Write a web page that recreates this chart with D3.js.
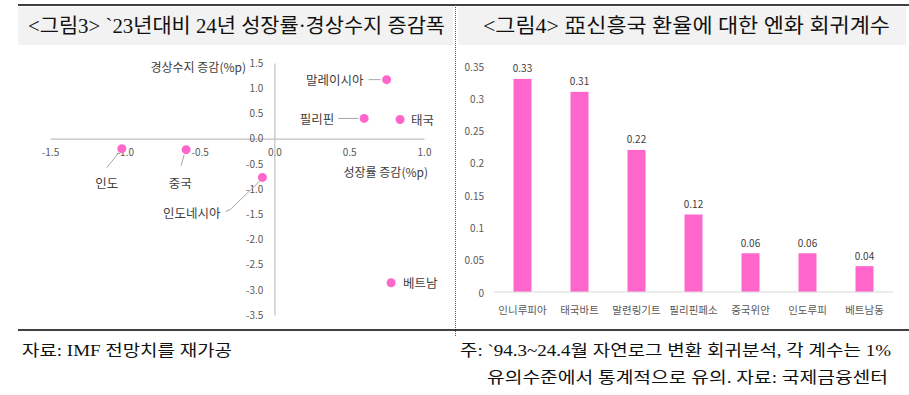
<!DOCTYPE html>
<html>
<head>
<meta charset="utf-8">
<script src="https://cdn.jsdelivr.net/npm/d3@7"></script>
<style>
  body { margin: 0; background: #fff; }
  svg { display: block; }
  .sans { font-family: "Noto Sans CJK KR", "Noto Sans", sans-serif; }
  .serif { font-family: "Liberation Serif", "Noto Sans CJK KR", serif; }
</style>
</head>
<body>
<svg id="chart" width="909" height="395"></svg>
<script>
// ---- data: left scatter (24 vs 23 change, %p) ----
var scatterNames = ['말레이시아', '필리핀', '태국', '인도', '중국', '인도네시아', '베트남'];
var growthChange = [0.75, 0.60, 0.84, -1.02, -0.59, -0.08, 0.78];
var currentAccountChange = [1.17, 0.40, 0.38, -0.20, -0.22, -0.77, -2.86];
var scatterXTicks = [-1.5, -1.0, -0.5, 0.0, 0.5, 1.0];
var scatterYTicks = [1.5, 1.0, 0.5, 0.0, -0.5, -1.0, -1.5, -2.0, -2.5, -3.0, -3.5];

// ---- data: right bar chart (yen regression coefficient) ----
var currencies = ['인니루피아', '태국바트', '말련링기트', '필리핀페소', '중국위안', '인도루피', '베트남동'];
var coefficients = [0.33, 0.31, 0.22, 0.12, 0.06, 0.06, 0.04];
var barYTicks = [0, 0.05, 0.1, 0.15, 0.2, 0.25, 0.3, 0.35];

var PINK = '#ff66cc';
var svg = d3.select('#chart');

// frame: top rule, title boxes, divider, bottom rule
svg.append('line').attr('x1', 18).attr('x2', 909).attr('y1', 5).attr('y2', 5)
    .attr('stroke', '#000').attr('stroke-width', 1.5);
svg.append('rect').attr('x', 18).attr('y', 7).attr('width', 435).attr('height', 38).attr('fill', '#f2f2f2');
svg.append('rect').attr('x', 458).attr('y', 7).attr('width', 448).attr('height', 38).attr('fill', '#f2f2f2');
svg.append('line').attr('x1', 455.5).attr('x2', 455.5).attr('y1', 5).attr('y2', 336)
    .attr('stroke', '#555').attr('stroke-dasharray', '1,1');
svg.append('line').attr('x1', 18).attr('x2', 909).attr('y1', 330).attr('y2', 330)
    .attr('stroke', '#000').attr('stroke-width', 1.5);

function fitText(sel, width) {
    sel.attr('textLength', width).attr('lengthAdjust', 'spacingAndGlyphs');
}

// titles
svg.append('text').attr('class', 'serif').attr('x', 28).attr('y', 26)
    .attr('dominant-baseline', 'central').style('font-size', '20px').attr('fill', '#111')
    .text('<그림3> `23년대비 24년  성장률·경상수지  증감폭').call(fitText, 417);
svg.append('text').attr('class', 'serif').attr('x', 483).attr('y', 26)
    .attr('dominant-baseline', 'central').style('font-size', '20px').attr('fill', '#111')
    .text('<그림4> 亞신흥국  환율에  대한  엔화  회귀계수').call(fitText, 407);

// footers
svg.append('text').attr('class', 'serif').attr('x', 22).attr('y', 350)
    .attr('dominant-baseline', 'central').style('font-size', '16px').attr('fill', '#111')
    .text('자료: IMF  전망치를  재가공').call(fitText, 210);
svg.append('text').attr('class', 'serif').attr('x', 460).attr('y', 350)
    .attr('dominant-baseline', 'central').style('font-size', '16px').attr('fill', '#111')
    .text('주: `94.3~24.4월  자연로그  변환  회귀분석,  각  계수는  1%').call(fitText, 431);
svg.append('text').attr('class', 'serif').attr('x', 487).attr('y', 377)
    .attr('dominant-baseline', 'central').style('font-size', '16px').attr('fill', '#111')
    .text('유의수준에서  통계적으로  유의.   자료:  국제금융센터').call(fitText, 401);

// ================= left: scatter =================
var x = d3.scaleLinear().domain([-1.5, 1.0]).range([50, 424]);
var y = d3.scaleLinear().domain([-3.5, 1.5]).range([315, 63]);

var left = svg.append('g').attr('class', 'sans');

var xAxis = left.append('g').attr('transform', 'translate(0,' + y(0) + ')')
    .call(d3.axisBottom(x).tickValues(scatterXTicks).tickSize(0).tickPadding(10)
        .tickFormat(function(d) { return d.toFixed(1); }));
var yAxis = left.append('g').attr('transform', 'translate(' + x(0) + ',0)')
    .call(d3.axisLeft(y).tickValues(scatterYTicks).tickSize(0).tickPadding(11)
        .tickFormat(function(d) { return d.toFixed(1); }));
[xAxis, yAxis].forEach(function(ax) {
    ax.select('.domain').attr('stroke', '#c0c0c0').attr('stroke-width', 1.2);
    ax.selectAll('text').attr('fill', '#595959').style('font-size', '10px')
        .style('font-family', '"Noto Sans CJK KR", sans-serif');
});

left.append('text').attr('x', 246).attr('y', 66).attr('text-anchor', 'end')
    .attr('dominant-baseline', 'central').style('font-size', '12px').attr('fill', '#404040')
    .text('경상수지 증감(%p)');
left.append('text').attr('x', 428).attr('y', 171).attr('text-anchor', 'end')
    .attr('dominant-baseline', 'central').style('font-size', '12px').attr('fill', '#404040')
    .text('성장률 증감(%p)');

// label placement relative to each dot (dx, dy, anchor, leader line points)
var labelLayout = [
    { dx: -23, dy: 0, anchor: 'end', leader: [[-18, 0], [-6, 0]] },
    { dx: -30, dy: 0, anchor: 'end', leader: [[-26, 0], [-6, 0]] },
    { dx: 11, dy: 0, anchor: 'start', leader: null },
    { dx: -15, dy: 34, anchor: 'middle', leader: [[-3, 4], [-15, 19]] },
    { dx: -6, dy: 33, anchor: 'middle', leader: [[-2, 5], [-5, 16]] },
    { dx: -42, dy: 35, anchor: 'end', leader: [[-2, 3], [-32, 32], [-37, 34]] },
    { dx: 12, dy: 0, anchor: 'start', leader: null }
];

var points = scatterNames.map(function(n, i) {
    return { name: n, gx: growthChange[i], cy: currentAccountChange[i], lay: labelLayout[i] };
});

points.forEach(function(p) {
    var px = x(p.gx), py = y(p.cy);
    if (p.lay.leader) {
        left.append('path')
            .attr('d', d3.line()(p.lay.leader.map(function(o) { return [px + o[0], py + o[1]]; })))
            .attr('fill', 'none').attr('stroke', '#a6a6a6').attr('stroke-width', 1);
    }
    left.append('text').attr('x', px + p.lay.dx).attr('y', py + p.lay.dy)
        .attr('text-anchor', p.lay.anchor).attr('dominant-baseline', 'central')
        .style('font-size', '12.5px').attr('fill', '#404040').text(p.name);
});

left.selectAll('circle.dot').data(points).enter().append('circle')
    .attr('class', 'dot')
    .attr('cx', function(d) { return x(d.gx); })
    .attr('cy', function(d) { return y(d.cy); })
    .attr('r', 4.5)
    .attr('fill', PINK);

// ================= right: bars =================
var bx = d3.scaleBand().domain(currencies).range([494, 893]);
var by = d3.scaleLinear().domain([0, 0.35]).range([292, 66]);
var barW = 18;

var right = svg.append('g').attr('class', 'sans');

right.selectAll('text.ytick').data(barYTicks).enter().append('text')
    .attr('class', 'ytick')
    .attr('x', 484).attr('y', function(d) { return by(d); })
    .attr('text-anchor', 'end').attr('dominant-baseline', 'central')
    .style('font-size', '10px').attr('fill', '#595959')
    .text(function(d) { return String(+d.toFixed(2)); });

right.selectAll('rect.bar').data(coefficients).enter().append('rect')
    .attr('class', 'bar')
    .attr('x', function(d, i) { return bx(currencies[i]) + bx.bandwidth() / 2 - barW / 2; })
    .attr('y', function(d) { return by(d); })
    .attr('width', barW)
    .attr('height', function(d) { return by(0) - by(d); })
    .attr('fill', PINK);

right.append('line').attr('x1', 494).attr('x2', 893).attr('y1', by(0)).attr('y2', by(0))
    .attr('stroke', '#d9d9d9').attr('stroke-width', 1);

right.selectAll('text.val').data(coefficients).enter().append('text')
    .attr('class', 'val')
    .attr('x', function(d, i) { return bx(currencies[i]) + bx.bandwidth() / 2; })
    .attr('y', function(d) { return by(d) - 11; })
    .attr('text-anchor', 'middle').attr('dominant-baseline', 'central')
    .style('font-size', '10px').attr('fill', '#404040')
    .text(function(d) { return d.toFixed(2); });

right.selectAll('text.cat').data(currencies).enter().append('text')
    .attr('class', 'cat')
    .attr('x', function(d) { return bx(d) + bx.bandwidth() / 2; })
    .attr('y', 309)
    .attr('text-anchor', 'middle').attr('dominant-baseline', 'central')
    .style('font-size', '10.5px').attr('fill', '#595959')
    .text(function(d) { return d; });
</script>
</body>
</html>
